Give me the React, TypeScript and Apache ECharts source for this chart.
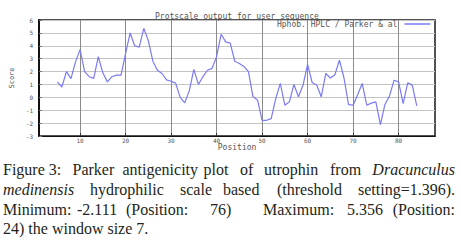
import React, { useEffect, useRef } from "react";
import * as echarts from "echarts";

const positions = [
  5, 6, 7, 8, 9, 10, 11, 12, 13, 14, 15, 16, 17, 18, 19, 20, 21, 22, 23, 24,
  25, 26, 27, 28, 29, 30, 31, 32, 33, 34, 35, 36, 37, 38, 39, 40, 41, 42, 43, 44,
  45, 46, 47, 48, 49, 50, 51, 52, 53, 54, 55, 56, 57, 58, 59, 60, 61, 62, 63, 64,
  65, 66, 67, 68, 69, 70, 71, 72, 73, 74, 75, 76, 77, 78, 79, 80, 81, 82, 83, 84,
];
const scores = [
  1.2, 0.8, 2.0, 1.45, 2.75, 3.7, 2.0, 1.6, 1.47, 3.15, 1.9, 1.2, 1.6, 1.72, 1.72, 3.4, 5.0, 4.0, 3.9, 5.356,
  4.4, 2.8, 2.1, 1.85, 1.35, 1.25, 1.1, 0.0, -0.43, 0.5, 2.17, 1.0, 1.6, 2.1, 2.25, 3.15, 4.89, 4.3, 4.2, 2.8,
  2.63, 2.4, 2.0, 0.04, -0.2, -1.78, -1.78, -1.65, -0.1, 1.08, -0.61, -0.35, 1.0, 0.04, 0.95, 2.56, 1.15, 0.95, 0.04, 1.85,
  1.5, 1.75, 2.89, 1.5, -0.56, -0.61, 0.2, 1.08, -0.61, -0.45, -0.35, -2.111, -0.55, 0.1, 1.33, 1.2, -0.48, 1.12, 0.95, -0.66,
];
const xTickCount = 9;
const yMin = -3;
const yMax = 6;
const xMin = 1;
const xMax = 88;

const titleText = "Protscale output for user sequence";
const seriesName = "Hphob. HPLC / Parker & al";
const xName = "Position";
const yName = "Score";

// caption: [text, x, align, italic]
const captionLines: [string, number, string, boolean][][] = [
  [
    ["Figure 3:", 3, "left", false],
    ["Parker", 72.5, "left", false],
    ["antigenicity", 122.5, "left", false],
    ["plot", 203.5, "left", false],
    ["of", 240, "left", false],
    ["utrophin", 264, "left", false],
    ["from", 330, "left", false],
    ["Dracunculus", 455, "right", true],
  ],
  [
    ["medinensis", 3, "left", true],
    ["hydrophilic", 90, "left", false],
    ["scale", 180, "left", false],
    ["based", 223, "left", false],
    ["(threshold", 277, "left", false],
    ["setting=1.396).", 455, "right", false],
  ],
  [
    ["Minimum:", 3, "left", false],
    ["-2.111", 77, "left", false],
    ["(Position:", 126, "left", false],
    ["76)", 210, "left", false],
    ["Maximum:", 263, "left", false],
    ["5.356", 347, "left", false],
    ["(Position:", 455, "right", false],
  ],
  [["24) the window size 7.", 3, "left", false]],
];
const captionBaselines = [177.5, 197.5, 217, 236];

const mono = "'DejaVu Sans Mono', monospace";
const serif = "'Liberation Serif', 'DejaVu Serif', serif";

export default function App() {
  const ref = useRef<HTMLDivElement>(null);
  useEffect(() => {
    if (!ref.current) return;
    const chart = echarts.init(ref.current, null, { renderer: "svg" });
    const graphic: any[] = [];
    captionLines.forEach((line, li) => {
      line.forEach(([text, x, align, italic]) => {
        graphic.push({
          type: "text",
          x,
          y: captionBaselines[li],
          silent: true,
          style: {
            text,
            fill: "#231f20",
            font: `${italic ? "italic " : ""}16px ${serif}`,
            align,
            verticalAlign: "bottom",
          },
        });
      });
    });
    chart.setOption({
      animation: false,
      backgroundColor: "#ffffff",
      title: {
        text: titleText,
        left: 155,
        top: 12,
        padding: 0,
        textStyle: { fontSize: 8, fontWeight: "normal", fontFamily: mono, color: "#555" },
      },
      legend: {
        left: 277,
        top: 20,
        padding: 0,
        align: "right",
        itemWidth: 26,
        itemHeight: 1.5,
        itemGap: 4,
        textStyle: { fontSize: 8, fontFamily: mono, color: "#555", padding: [0, 2, 0, 0] },
        data: [{ name: seriesName, icon: "rect" }],
      },
      grid: {
        left: 39,
        right: 26,
        top: 20,
        bottom: 109,
        containLabel: false,
        show: true,
        borderColor: "#1a1a1a",
        borderWidth: 1.5,
        backgroundColor: "transparent",
      },
      xAxis: {
        type: "value",
        min: xMin,
        max: xMax,
        splitNumber: xTickCount,
        name: xName,
        nameLocation: "middle",
        nameGap: 3,
        nameTextStyle: { fontSize: 8, fontFamily: mono, color: "#555" },
        axisLine: { show: true, onZero: false, lineStyle: { color: "#111", width: 1.2 } },
        axisTick: { show: true, inside: true, length: 3, lineStyle: { color: "#333" } },
        axisLabel: {
          show: true,
          showMinLabel: false,
          showMaxLabel: false,
          fontSize: 6,
          fontFamily: mono,
          color: "#555",
          margin: 1,
        },
        splitLine: {
          show: true,
          showMinLine: false,
          showMaxLine: false,
          lineStyle: { color: "#8a8a8a", width: 1 },
        },
      },
      yAxis: {
        type: "value",
        min: yMin,
        max: yMax,
        interval: 1,
        name: yName,
        nameLocation: "middle",
        nameRotate: 90,
        nameGap: 22,
        nameTextStyle: { fontSize: 7, fontFamily: mono, color: "#555" },
        axisLine: { show: true, onZero: false, lineStyle: { color: "#111", width: 2 } },
        axisTick: { show: true, inside: true, length: 3, lineStyle: { color: "#777" } },
        axisLabel: { fontSize: 6, fontFamily: mono, color: "#555", margin: 6 },
        splitLine: { show: true, lineStyle: { color: "#c4c4c4", width: 1 } },
      },
      series: [
        {
          name: seriesName,
          type: "line",
          data: positions.map((p, i) => [p, scores[i]]),
          symbol: "none",
          lineStyle: { color: "#7b7bf5", width: 1.2 },
          itemStyle: { color: "#7b7bf5" },
          z: 3,
        },
      ],
      graphic,
    });
    return () => chart.dispose();
  }, []);
  return (
    <div
      ref={ref}
      style={{ position: "fixed", left: 0, top: 0, width: 461, height: 245, background: "#fff" }}
    />
  );
}
